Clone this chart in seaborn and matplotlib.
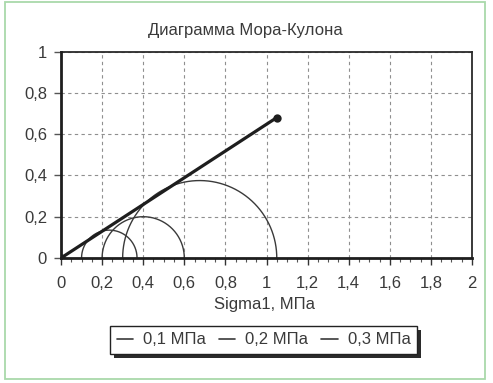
import numpy as np
import pandas as pd
import matplotlib
matplotlib.use("Agg")
import matplotlib.pyplot as plt
from matplotlib.patches import Rectangle
from matplotlib.ticker import FixedLocator, FixedFormatter, MultipleLocator
import seaborn as sns

# Mohr circles: confining pressure (sigma3) and failure stress (sigma1), MPa
sigma3 = [0.1, 0.2, 0.3]
sigma1 = [0.37, 0.6, 1.05]
series_labels = ["0,1 МПа", "0,2 МПа", "0,3 МПа"]

# Coulomb envelope end points
envelope_x = [0.0, 1.05]
envelope_y = [0.0, 0.68]

x_ticks = [0, 0.2, 0.4, 0.6, 0.8, 1.0, 1.2, 1.4, 1.6, 1.8, 2.0]
x_tick_labels = ["0", "0,2", "0,4", "0,6", "0,8", "1", "1,2", "1,4", "1,6", "1,8", "2"]
y_ticks = [0, 0.2, 0.4, 0.6, 0.8, 1.0]
y_tick_labels = ["0", "0,2", "0,4", "0,6", "0,8", "1"]

title = "Диаграмма Мора-Кулона"
x_label = "Sigma1, МПа"

sns.set_theme(style="white")
plt.rcParams["font.family"] = ["Liberation Sans", "DejaVu Sans"]
text_color = "#3a3a3a"

W, H = 493, 383
fig = plt.figure(figsize=(W / 100, H / 100), dpi=100)
fig.patch.set_facecolor("white")

# outer chart frame
fig.patches.append(Rectangle((5 / W, 4 / H), 480 / W, 377 / H, transform=fig.transFigure,
                             fill=False, edgecolor="#a9d9aa", linewidth=1.3, zorder=0))

ax = fig.add_axes([61 / W, 1 - 258 / H, (472 - 61) / W, (258 - 51.5) / H])
ax.set_facecolor("white")

# semicircles
theta = np.linspace(0, np.pi, 240)
frames = []
for s3, s1, lab in zip(sigma3, sigma1, series_labels):
    c = (s1 + s3) / 2
    r = (s1 - s3) / 2
    frames.append(pd.DataFrame({"sigma": c + r * np.cos(theta[::-1]),
                                "tau": r * np.sin(theta[::-1]),
                                "series": lab}))
circles = pd.concat(frames, ignore_index=True)

sns.lineplot(data=circles, x="sigma", y="tau", hue="series", sort=False, estimator=None,
             palette=["#3a3a3a"] * 3, linewidth=1.0, ax=ax, legend=True, zorder=3)

env = pd.DataFrame({"sigma": envelope_x, "tau": envelope_y})
sns.lineplot(data=env, x="sigma", y="tau", sort=False, estimator=None, color="#1e1e1e",
             linewidth=2.3, marker="o", markersize=6, markeredgewidth=0, ax=ax,
             legend=False, zorder=4)

ax.set_xlim(0, 2)
ax.set_ylim(0, 1)
ax.xaxis.set_major_locator(FixedLocator(x_ticks))
ax.xaxis.set_major_formatter(FixedFormatter(x_tick_labels))
ax.xaxis.set_minor_locator(MultipleLocator(0.05))
ax.yaxis.set_major_locator(FixedLocator(y_ticks))
ax.yaxis.set_major_formatter(FixedFormatter(y_tick_labels))

ax.grid(True, which="major", color="#8f8f8f", linestyle=(0, (3, 3)), linewidth=0.8)
ax.set_axisbelow(True)

ax.tick_params(axis="x", which="major", direction="out", length=5, width=1, pad=8,
               labelsize=12, labelcolor=text_color, color="#333333", bottom=True)
ax.tick_params(axis="x", which="minor", direction="out", length=3, width=0.8,
               color="#555555", bottom=True)
ax.tick_params(axis="y", which="major", direction="out", length=5, width=1, pad=5,
               labelsize=12, labelcolor=text_color, color="#555555", left=True)

for side in ["left", "bottom"]:
    ax.spines[side].set_color("#1e1e1e")
    ax.spines[side].set_linewidth(2.0)
    ax.spines[side].set_zorder(5)
for side in ["top", "right"]:
    ax.spines[side].set_color("#2a2a2a")
    ax.spines[side].set_linewidth(1.3)

ax.set_xlabel("")
ax.set_ylabel("")

fig.text(245 / W, 1 - 30 / H, title, ha="center", va="center", fontsize=12, color=text_color)
fig.text(265 / W, 1 - 304 / H, x_label, ha="center", va="center", fontsize=12, color=text_color)

handles, labels = ax.get_legend_handles_labels()
ax.get_legend().remove()
for h in handles:
    h.set_linewidth(1.2)
leg = fig.legend(handles, labels, loc="center", bbox_to_anchor=(263.5 / W, 1 - 340 / H),
                 ncol=3, frameon=True, fancybox=False, edgecolor="#222222",
                 facecolor="white", framealpha=1.0,
                 handlelength=1.0, handletextpad=0.6, columnspacing=0.75,
                 borderpad=0.4, fontsize=12, labelcolor=text_color)
leg.get_frame().set_linewidth(1.0)
leg.set_zorder(6)

# drop shadow under the legend box
fig.canvas.draw()
bb = leg.get_window_extent()
fig.patches.append(Rectangle(((bb.x0 + 4) / W, (bb.y0 - 4) / H), bb.width / W, bb.height / H,
                             transform=fig.transFigure, facecolor="#2b2b2b",
                             edgecolor="none", zorder=1))

fig.savefig("out.png", dpi=100, facecolor="white")
